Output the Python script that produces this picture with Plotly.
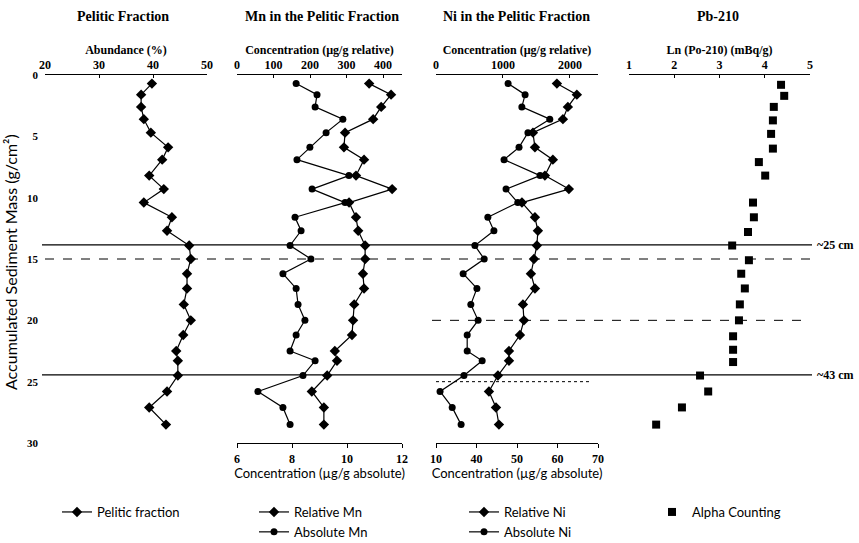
import plotly.graph_objects as go

W, H = 859, 543

# depths of the sediment samples (g/cm2)
depth = [0.7, 1.6, 2.6, 3.6, 4.7, 5.9, 6.9, 8.2, 9.3, 10.4, 11.6, 12.7, 13.9,
         15.0, 16.2, 17.4, 18.7, 20.0, 21.2, 22.5, 23.3, 24.5, 25.8, 27.1, 28.5]

pelitic = [39.8, 37.8, 37.8, 38.3, 39.6, 42.8, 41.7, 39.3, 42.0, 38.3, 43.5, 42.6, 46.7,
           47.0, 46.3, 46.3, 45.7, 47.0, 45.6, 44.3, 44.6, 44.6, 42.6, 39.3, 42.4]

mn_rel = [362, 422, 395, 373, 296, 293, 348, 326, 425, 307, 326, 332, 351,
          351, 345, 348, 321, 318, 315, 268, 274, 247, 205, 238, 238]
mn_abs = [8.15, 8.91, 8.84, 9.85, 9.24, 8.65, 8.18, 10.07, 8.73, 9.93, 8.11, 8.33, 7.93,
          8.69, 7.67, 8.15, 8.22, 8.47, 8.15, 7.93, 8.84, 8.40, 6.76, 7.67, 7.93]

ni_rel = [1806, 2104, 1970, 1896, 1448, 1478, 1746, 1627, 1985, 1284, 1478, 1522, 1507,
          1463, 1418, 1478, 1299, 1313, 1254, 1090, 1090, 925, 791, 896, 940]
ni_abs = [47.8, 52.0, 51.2, 58.1, 52.7, 50.5, 46.8, 55.7, 47.3, 50.2, 42.8, 44.3, 39.6,
          41.9, 36.7, 40.1, 38.6, 40.4, 37.7, 37.7, 41.4, 36.9, 31.0, 34.0, 36.2]

pb_depth = [0.8, 1.7, 2.6, 3.7, 4.8, 6.0, 7.1, 8.2, 10.4, 11.6, 12.8, 13.9,
            15.1, 16.2, 17.4, 18.7, 20.0, 21.3, 22.4, 23.4, 24.5, 25.8, 27.1, 28.5]
pb_ln = [4.36, 4.43, 4.20, 4.18, 4.14, 4.18, 3.87, 4.01, 3.74, 3.76, 3.63, 3.28,
         3.65, 3.48, 3.56, 3.45, 3.43, 3.30, 3.30, 3.30, 2.57, 2.75, 2.17, 1.60]

# marker horizons
solid_levels = [13.85, 24.45]
level_labels = ["~25 cm", "~43 cm"]


def px(x):
    return x / W


def py(y):
    return 1 - y / H


SERIF = "Liberation Serif"
SANS = "Lato"
line = dict(color="black", width=1.2)

fig = go.Figure()
fig.add_trace(go.Scatter(x=pelitic, y=depth, xaxis="x", yaxis="y", mode="lines+markers",
                         name="Pelitic fraction", line=line,
                         marker=dict(symbol="diamond", size=8, color="black"),
                         legend="legend"))
fig.add_trace(go.Scatter(x=mn_rel, y=depth, xaxis="x2", yaxis="y", mode="lines+markers",
                         name="Relative Mn", line=line,
                         marker=dict(symbol="diamond", size=8, color="black"),
                         legend="legend2"))
fig.add_trace(go.Scatter(x=mn_abs, y=depth, xaxis="x3", yaxis="y", mode="lines+markers",
                         name="Absolute Mn", line=line,
                         marker=dict(symbol="circle", size=7, color="black"),
                         legend="legend2"))
fig.add_trace(go.Scatter(x=ni_rel, y=depth, xaxis="x4", yaxis="y", mode="lines+markers",
                         name="Relative Ni", line=line,
                         marker=dict(symbol="diamond", size=8, color="black"),
                         legend="legend3"))
fig.add_trace(go.Scatter(x=ni_abs, y=depth, xaxis="x5", yaxis="y", mode="lines+markers",
                         name="Absolute Ni", line=line,
                         marker=dict(symbol="circle", size=7, color="black"),
                         legend="legend3"))
fig.add_trace(go.Scatter(x=pb_ln, y=pb_depth, xaxis="x6", yaxis="y", mode="markers",
                         name="Alpha Counting",
                         marker=dict(symbol="square", size=8, color="black"),
                         legend="legend4"))

tickfont = dict(family=SERIF, size=12, color="black", weight="bold")
toptitle = dict(family=SERIF, size=12, color="black", weight="bold")
bottitle = dict(family=SANS, size=13, color="black")


def top_axis(rng, dom, title, tickvals):
    return dict(range=rng, domain=[px(dom[0]), px(dom[1])], anchor="y", side="top",
                automargin=False, showgrid=False, zeroline=False, showline=True,
                linecolor="black", linewidth=1.2, ticks="inside", ticklen=3,
                tickcolor="black", tickfont=tickfont, tickvals=tickvals,
                title=dict(text=title, font=toptitle, standoff=0))


def bottom_axis(rng, tickvals, ticktext, overlay, title):
    return dict(range=rng, overlaying=overlay, anchor="y", side="bottom", automargin=False,
                showgrid=False, zeroline=False, showline=True, linecolor="black", linewidth=1.2,
                ticks="outside", ticklen=4, tickcolor="black", tickfont=tickfont,
                tickvals=tickvals, ticktext=ticktext,
                title=dict(text=title, font=bottitle, standoff=2))


fig.update_layout(
    width=W, height=H, margin=dict(l=0, r=0, t=0, b=0, autoexpand=False),
    plot_bgcolor="white", paper_bgcolor="white",
    xaxis=top_axis([20, 50], (45, 207), "Abundance (%)", [20, 30, 40, 50]),
    xaxis2=top_axis([0, 452], (237, 402), "Concentration (µg/g relative)",
                    [0, 100, 200, 300, 400]),
    xaxis3=bottom_axis([6, 12], [6, 8, 10, 12], ["6", "8", "10", "12"], "x2",
                       "Concentration (µg/g absolute)"),
    xaxis4=top_axis([0, 2420], (436, 598), "Concentration (µg/g relative)",
                    [0, 1000, 2000]),
    xaxis5=bottom_axis([30, 70], [30, 40, 50, 60, 70], ["10", "40", "50", "60", "70"], "x4",
                       "Concentration (µg/g absolute)"),
    xaxis6=top_axis([1, 5], (629, 810), "Ln (Po-210) (mBq/g)", [1, 2, 3, 4, 5]),
    yaxis=dict(range=[30, 0], domain=[py(443), py(75)], anchor="free", position=px(38),
               automargin=False, showgrid=False, zeroline=False, showline=False, ticks="",
               tickvals=[0, 5, 10, 15, 20, 25, 30],
               tickfont=dict(family=SERIF, size=11, color="black", weight="bold")),
    showlegend=True,
)

legend_base = dict(orientation="v", xanchor="left", yanchor="top", bgcolor="rgba(0,0,0,0)",
                   font=dict(family=SANS, size=13, color="black"), tracegroupgap=0,
                   itemwidth=30)
fig.update_layout(
    legend=dict(legend_base, x=px(57), y=py(497)),
    legend2=dict(legend_base, x=px(254), y=py(497)),
    legend3=dict(legend_base, x=px(464), y=py(497)),
    legend4=dict(legend_base, x=px(652), y=py(497)),
)

# horizon lines
for lvl in solid_levels:
    fig.add_shape(type="line", xref="paper", yref="y", x0=px(42), x1=px(812), y0=lvl, y1=lvl,
                  line=dict(color="black", width=1.3))
fig.add_shape(type="line", xref="paper", yref="y", x0=px(45), x1=px(810), y0=15.0, y1=15.0,
              line=dict(color="black", width=1, dash="dash"))
fig.add_shape(type="line", xref="paper", yref="y", x0=px(432), x1=px(810), y0=20.0, y1=20.0,
              line=dict(color="black", width=1, dash="dash"))
fig.add_shape(type="line", xref="paper", yref="y", x0=px(436), x1=px(592), y0=25.0, y1=25.0,
              line=dict(color="black", width=1, dash="dot"))

for lvl, txt in zip(solid_levels, level_labels):
    fig.add_annotation(text=txt, xref="paper", yref="y", x=px(815), y=lvl, xanchor="left",
                       showarrow=False, font=dict(family=SERIF, size=12, color="black",
                                                  weight="bold"))

# panel titles
titles = [("Pelitic Fraction", 123), ("Mn in the Pelitic Fraction", 322),
          ("Ni in the Pelitic Fraction", 516), ("Pb-210", 718)]
for txt, cx in titles:
    fig.add_annotation(text=txt, xref="paper", yref="paper", x=px(cx), y=py(16),
                       xanchor="center", yanchor="middle", showarrow=False,
                       font=dict(family=SERIF, size=14, color="black", weight="bold"))

fig.add_annotation(text="Accumulated Sediment Mass (g/cm²)", xref="paper", yref="paper",
                   x=px(10), y=py(262), xanchor="center", yanchor="middle", textangle=-90,
                   showarrow=False, font=dict(family=SANS, size=16, color="black"))

# the page body has a default 8px margin; drop it so the figure fills the window
fig.write_html("out.html", config={"displayModeBar": False},
               post_script="document.body.style.margin = '0';")
